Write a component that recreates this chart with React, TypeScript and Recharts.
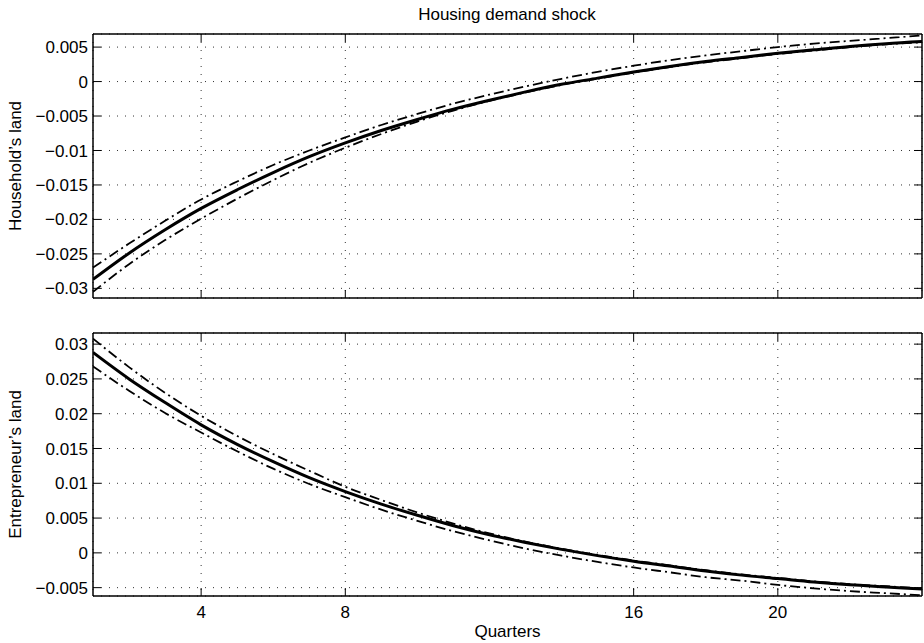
import React from "react";
import { LineChart, Line, XAxis, YAxis, CartesianGrid } from "recharts";

// quarters after the shock
const quarters = [1, 2, 3, 4, 5, 6, 7, 8, 9, 10, 11, 12, 13, 14, 15, 16, 17, 18, 19, 20, 21, 22, 23, 24];

// Household's land: mean response and the two bands
const hhMean = [
  -0.0287, -0.0249, -0.0215, -0.0184, -0.0157, -0.0132, -0.0109, -0.0089, -0.0071, -0.0055, -0.004, -0.0027,
  -0.0015, -0.0004, 0.0005, 0.0014, 0.0022, 0.0029, 0.0035, 0.0041, 0.0046, 0.0051, 0.0055, 0.0058,
];
const hhUpper = [
  -0.027, -0.0235, -0.0202, -0.0171, -0.0145, -0.0121, -0.01, -0.0081, -0.0063, -0.0047, -0.0032, -0.0019,
  -0.0007, 0.0004, 0.0014, 0.0023, 0.0031, 0.0038, 0.0044, 0.005, 0.0055, 0.0059, 0.0063, 0.0067,
];
const hhLower = [
  -0.0305, -0.0265, -0.023, -0.0199, -0.017, -0.0143, -0.0118, -0.0096, -0.0076, -0.0058, -0.0042, -0.0028,
  -0.0016, -0.0005, 0.0004, 0.0013, 0.0021, 0.0028, 0.0034, 0.004, 0.0045, 0.005, 0.0054, 0.0057,
];

// Entrepreneur's land
const entMean = [
  0.0288, 0.025, 0.0216, 0.0184, 0.0156, 0.0131, 0.0108, 0.0088, 0.007, 0.0054, 0.0039, 0.0026,
  0.0015, 0.0005, -0.0004, -0.0012, -0.0019, -0.0026, -0.0032, -0.0037, -0.0042, -0.0046, -0.0049, -0.0052,
];
const entUpper = [
  0.0308, 0.0267, 0.023, 0.0197, 0.0168, 0.0142, 0.0118, 0.0095, 0.0076, 0.0058, 0.0042, 0.0028,
  0.0016, 0.0006, -0.0003, -0.0011, -0.0018, -0.0025, -0.0031, -0.0036, -0.0041, -0.0045, -0.0048, -0.0051,
];
const entLower = [
  0.0268, 0.0233, 0.0201, 0.0173, 0.0146, 0.0121, 0.0099, 0.008, 0.0062, 0.0046, 0.0031, 0.0018,
  0.0006, -0.0004, -0.0013, -0.0021, -0.0028, -0.0035, -0.004, -0.0046, -0.0051, -0.0055, -0.0058, -0.0061,
];

const xTicks = [4, 8, 16, 20];
const hhTicks = [-0.03, -0.025, -0.02, -0.015, -0.01, -0.005, 0, 0.005];
const entTicks = [-0.005, 0, 0.005, 0.01, 0.015, 0.02, 0.025, 0.03];

const fmt = (v: number) => (v === 0 ? "0" : (v < 0 ? "\u2212" : "") + String(Math.abs(v)));
const blank = () => "";

const frame = { stroke: "#000", strokeWidth: 1.5 };
const dashDot = "10 4 2 4";

type PanelProps = {
  mean: number[];
  upper: number[];
  lower: number[];
  domain: [number, number];
  ticks: number[];
  yLabel: string;
  height: number;
  marginTop: number;
  bottomHeight: number;
  showX: boolean;
};

const Panel = ({ mean, upper, lower, domain, ticks, yLabel, height, marginTop, bottomHeight, showX }: PanelProps) => {
  const rows = quarters.map((q, i) => ({ q, mean: mean[i], upper: upper[i], lower: lower[i] }));
  return (
    <LineChart width={924} height={height} data={rows} margin={{ top: marginTop - 1, right: 1, bottom: 0, left: 0 }}>
      <CartesianGrid stroke="#333" strokeDasharray="1 7" />
      <XAxis
        dataKey="q"
        type="number"
        domain={[1, 24]}
        ticks={xTicks}
        allowDataOverflow
        interval={0}
        height={bottomHeight}
        tickSize={-8}
        tickMargin={18}
        axisLine={frame}
        tickLine={{ stroke: "#000" }}
        tick={{ fill: "#000", fontSize: 17 }}
        tickFormatter={showX ? undefined : blank}
        label={showX ? { value: "Quarters", position: "insideBottom", offset: 6, fill: "#000", fontSize: 17 } : undefined}
      />
      <XAxis
        xAxisId="top"
        orientation="top"
        dataKey="q"
        type="number"
        domain={[1, 24]}
        ticks={xTicks}
        allowDataOverflow
        interval={0}
        height={1}
        tickSize={-8}
        axisLine={frame}
        tickLine={{ stroke: "#000" }}
        tickFormatter={blank}
      />
      <YAxis
        type="number"
        domain={domain}
        ticks={ticks}
        allowDataOverflow
        interval={0}
        width={93}
        tickSize={-8}
        tickMargin={13}
        axisLine={frame}
        tickLine={{ stroke: "#000" }}
        tick={{ fill: "#000", fontSize: 17 }}
        tickFormatter={fmt}
        label={{
          value: yLabel,
          angle: -90,
          position: "insideLeft",
          offset: 15,
          fill: "#000",
          fontSize: 17,
          style: { textAnchor: "middle" },
        }}
      />
      <YAxis
        yAxisId="right"
        orientation="right"
        type="number"
        domain={domain}
        ticks={ticks}
        allowDataOverflow
        interval={0}
        width={1}
        tickSize={-8}
        axisLine={frame}
        tickLine={{ stroke: "#000" }}
        tickFormatter={blank}
      />
      <Line dataKey="upper" type="monotone" stroke="#000" strokeWidth={1.8} strokeDasharray={dashDot} dot={false} isAnimationActive={false} />
      <Line dataKey="lower" type="monotone" stroke="#000" strokeWidth={1.8} strokeDasharray={dashDot} dot={false} isAnimationActive={false} />
      <Line dataKey="mean" type="monotone" stroke="#000" strokeWidth={3} dot={false} isAnimationActive={false} />
    </LineChart>
  );
};

export default function App() {
  return (
    <div
      style={{
        position: "absolute",
        left: 0,
        top: 0,
        width: 924,
        height: 643,
        background: "#fff",
        fontFamily: "'Liberation Sans', Arial, sans-serif",
      }}
    >
      <div style={{ position: "absolute", top: 5, left: 357, width: 300, textAlign: "center", fontSize: 17, lineHeight: "19px" }}>
        Housing demand shock
      </div>
      <div style={{ position: "absolute", top: 0, left: 0 }}>
        <Panel
          mean={hhMean}
          upper={hhUpper}
          lower={hhLower}
          domain={[-0.0314, 0.0069]}
          ticks={hhTicks}
          yLabel="Household’s land"
          height={320}
          marginTop={34}
          bottomHeight={22}
          showX={false}
        />
      </div>
      <div style={{ position: "absolute", top: 320, left: 0 }}>
        <Panel
          mean={entMean}
          upper={entUpper}
          lower={entLower}
          domain={[-0.0062, 0.0316]}
          ticks={entTicks}
          yLabel="Entrepreneur’s land"
          height={323}
          marginTop={13}
          bottomHeight={47}
          showX
        />
      </div>
    </div>
  );
}
